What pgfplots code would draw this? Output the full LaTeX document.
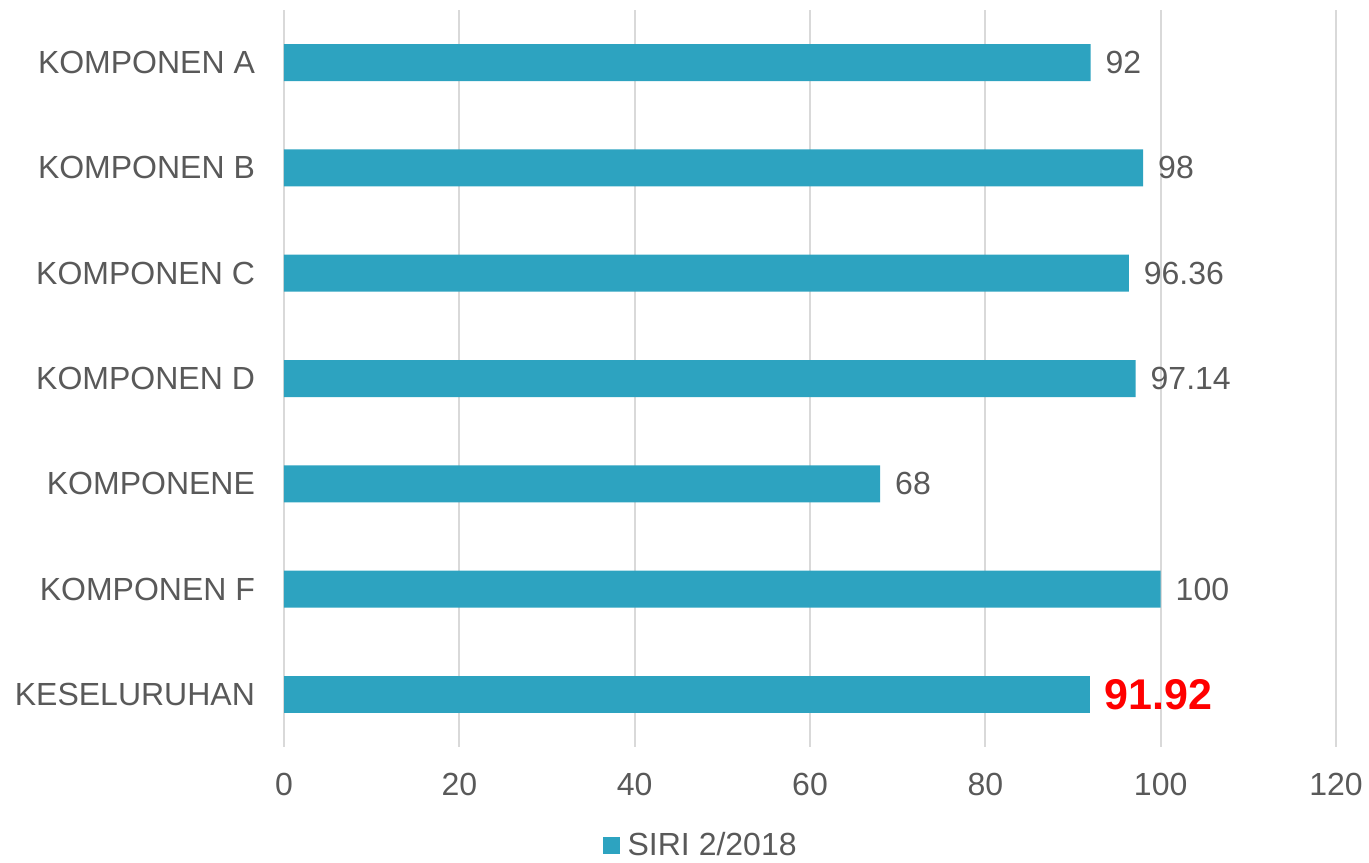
\documentclass[border=0pt]{standalone}
\usepackage{pgfplots}
\pgfplotsset{compat=1.18}
\usepackage{fontspec}
\setmainfont{Liberation Sans}
\definecolor{barc}{HTML}{2DA3C0}
\definecolor{txt}{HTML}{595959}
\definecolor{grd}{HTML}{D9D9D9}
\begin{document}
\begin{tikzpicture}
\begin{axis}[
  scale only axis,
  width=526pt, height=368.5pt,
  xbar, bar width=18.5pt, bar shift=0pt,
  xmin=0, xmax=120,
  xtick={0,20,...,120},
  ymin=-0.5, ymax=6.5, y dir=reverse,
  ytick={0,...,6},
  yticklabels={KOMPONEN A,KOMPONEN B,KOMPONEN C,KOMPONEN D,KOMPONENE,KOMPONEN F,KESELURUHAN},
  xmajorgrids, major grid style={grd, line width=1pt},
  axis line style={draw=none},
  axis y line*=left,
  extra x ticks={0}, extra x tick labels={},
  extra x tick style={grid=major, major grid style={grd, line width=1.2pt}},
  major tick length=0pt,
  tick style={draw=none},
  ticklabel style={font=\fontsize{16}{19}\selectfont, text=txt},
  /pgf/number format/assume math mode=true,
  xticklabel style={yshift=-9.5pt},
  yticklabel style={xshift=-11pt},
  legend style={at={(0.397,-0.133)}, anchor=center, draw=none, fill=none,
    font=\fontsize{16}{19}\selectfont, text=txt, legend cell align=left,
    /tikz/every odd column/.append style={column sep=2pt}},
  legend image code/.code={\fill[barc] (0pt,-4.25pt) rectangle (8.5pt,4.25pt);},
  clip=false,
]
\addplot[fill=barc, draw=none,
  point meta=explicit symbolic,
  nodes near coords,
  nodes near coords style={anchor=west, xshift=4pt, font=\fontsize{16}{19}\selectfont, text=txt}]
  coordinates {(92,0) [92] (98,1) [98] (96.36,2) [96.36] (97.14,3) [97.14] (68,4) [68] (100,5) [100]};
\addlegendentry{SIRI 2/2018}
\addplot[fill=barc, draw=none, forget plot,
  point meta=explicit symbolic,
  nodes near coords,
  nodes near coords style={anchor=west, xshift=4pt, font=\fontsize{21.5}{25}\selectfont\bfseries, text=red}]
  coordinates {(91.92,6) [91.92]};
\end{axis}
\pgfresetboundingbox
\path (current axis.south west) ++(-142pt,-57.5pt) rectangle ([xshift=16.5pt,yshift=5pt]current axis.north east);
\end{tikzpicture}
\end{document}
